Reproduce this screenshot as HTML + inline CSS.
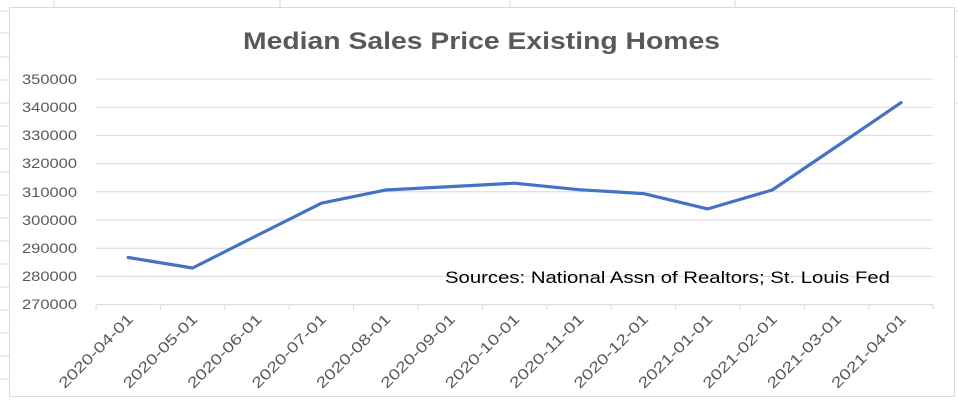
<!DOCTYPE html>
<html><head><style>body{margin:0;background:#fff}svg{display:block}</style></head><body>
<svg width="958" height="401" xmlns="http://www.w3.org/2000/svg" font-family="Liberation Sans, sans-serif">
<rect width="958" height="401" fill="#fff"/>
<g stroke="#d9d9d9" stroke-width="1">
<line x1="54" y1="0" x2="54" y2="7"/><line x1="280" y1="0" x2="280" y2="7"/><line x1="510" y1="0" x2="510" y2="7"/><line x1="735" y1="0" x2="735" y2="7"/>
<line x1="0" y1="11" x2="9" y2="11"/><line x1="0" y1="33" x2="9" y2="33"/><line x1="0" y1="57" x2="9" y2="57"/><line x1="0" y1="80" x2="9" y2="80"/><line x1="0" y1="103" x2="9" y2="103"/><line x1="0" y1="126" x2="9" y2="126"/><line x1="0" y1="149" x2="9" y2="149"/><line x1="0" y1="172" x2="9" y2="172"/><line x1="0" y1="195" x2="9" y2="195"/><line x1="0" y1="218" x2="9" y2="218"/><line x1="0" y1="241" x2="9" y2="241"/><line x1="0" y1="264" x2="9" y2="264"/><line x1="0" y1="287" x2="9" y2="287"/><line x1="0" y1="310" x2="9" y2="310"/><line x1="0" y1="333" x2="9" y2="333"/><line x1="0" y1="356" x2="9" y2="356"/><line x1="0" y1="379" x2="9" y2="379"/>
<line x1="955" y1="11" x2="958" y2="11"/><line x1="955" y1="57" x2="958" y2="57"/><line x1="955" y1="103" x2="958" y2="103"/>
</g>
<rect x="9.5" y="7.5" width="945" height="389" fill="#fff" stroke="#d9d9d9"/>
<text x="243" y="49" textLength="477" lengthAdjust="spacingAndGlyphs" font-size="24" font-weight="bold" fill="#595959">Median Sales Price Existing Homes</text>
<g stroke="#d9d9d9" stroke-width="1">
<line x1="96" y1="79" x2="933" y2="79"/><line x1="96" y1="107.2" x2="933" y2="107.2"/><line x1="96" y1="135.4" x2="933" y2="135.4"/><line x1="96" y1="163.6" x2="933" y2="163.6"/><line x1="96" y1="191.8" x2="933" y2="191.8"/><line x1="96" y1="220" x2="933" y2="220"/><line x1="96" y1="248.2" x2="933" y2="248.2"/><line x1="96" y1="276.4" x2="933" y2="276.4"/><line x1="96" y1="304.6" x2="933" y2="304.6"/>
<line x1="96" y1="304.6" x2="96" y2="310"/><line x1="160.4" y1="304.6" x2="160.4" y2="310"/><line x1="224.8" y1="304.6" x2="224.8" y2="310"/><line x1="289.2" y1="304.6" x2="289.2" y2="310"/><line x1="353.6" y1="304.6" x2="353.6" y2="310"/><line x1="418" y1="304.6" x2="418" y2="310"/><line x1="482.4" y1="304.6" x2="482.4" y2="310"/><line x1="546.8" y1="304.6" x2="546.8" y2="310"/><line x1="611.2" y1="304.6" x2="611.2" y2="310"/><line x1="675.6" y1="304.6" x2="675.6" y2="310"/><line x1="740" y1="304.6" x2="740" y2="310"/><line x1="804.4" y1="304.6" x2="804.4" y2="310"/><line x1="868.8" y1="304.6" x2="868.8" y2="310"/><line x1="933" y1="304.6" x2="933" y2="310"/>
</g>
<g font-size="14" fill="#595959">
<text x="22" y="84" textLength="55" lengthAdjust="spacingAndGlyphs">350000</text><text x="22" y="112" textLength="55" lengthAdjust="spacingAndGlyphs">340000</text><text x="22" y="140" textLength="55" lengthAdjust="spacingAndGlyphs">330000</text><text x="22" y="168" textLength="55" lengthAdjust="spacingAndGlyphs">320000</text><text x="22" y="197" textLength="55" lengthAdjust="spacingAndGlyphs">310000</text><text x="22" y="225" textLength="55" lengthAdjust="spacingAndGlyphs">300000</text><text x="22" y="253" textLength="55" lengthAdjust="spacingAndGlyphs">290000</text><text x="22" y="281" textLength="55" lengthAdjust="spacingAndGlyphs">280000</text><text x="22" y="309" textLength="55" lengthAdjust="spacingAndGlyphs">270000</text>
</g>
<g font-size="15" fill="#595959" text-anchor="end">
<text transform="translate(134,320) rotate(-45)" textLength="98" lengthAdjust="spacingAndGlyphs">2020-04-01</text>
<text transform="translate(198.4,320) rotate(-45)" textLength="98" lengthAdjust="spacingAndGlyphs">2020-05-01</text>
<text transform="translate(262.8,320) rotate(-45)" textLength="98" lengthAdjust="spacingAndGlyphs">2020-06-01</text>
<text transform="translate(327.2,320) rotate(-45)" textLength="98" lengthAdjust="spacingAndGlyphs">2020-07-01</text>
<text transform="translate(391.6,320) rotate(-45)" textLength="98" lengthAdjust="spacingAndGlyphs">2020-08-01</text>
<text transform="translate(456,320) rotate(-45)" textLength="98" lengthAdjust="spacingAndGlyphs">2020-09-01</text>
<text transform="translate(520.4,320) rotate(-45)" textLength="98" lengthAdjust="spacingAndGlyphs">2020-10-01</text>
<text transform="translate(584.8,320) rotate(-45)" textLength="98" lengthAdjust="spacingAndGlyphs">2020-11-01</text>
<text transform="translate(649.2,320) rotate(-45)" textLength="98" lengthAdjust="spacingAndGlyphs">2020-12-01</text>
<text transform="translate(713.6,320) rotate(-45)" textLength="98" lengthAdjust="spacingAndGlyphs">2021-01-01</text>
<text transform="translate(778,320) rotate(-45)" textLength="98" lengthAdjust="spacingAndGlyphs">2021-02-01</text>
<text transform="translate(842.4,320) rotate(-45)" textLength="98" lengthAdjust="spacingAndGlyphs">2021-03-01</text>
<text transform="translate(906.8,320) rotate(-45)" textLength="98" lengthAdjust="spacingAndGlyphs">2021-04-01</text>
</g>
<polyline fill="none" stroke="#4472c4" stroke-width="3.2" stroke-linejoin="round" stroke-linecap="round"
points="128.2,257.5 192.6,268 257,235.5 321.4,203.2 385.8,190 450.2,186.6 514.6,183.2 579,189.7 643.4,193.6 707.8,208.9 772.2,190 836.6,146.5 901,102.7"/>
<text x="445" y="283" textLength="445" lengthAdjust="spacingAndGlyphs" font-size="17" fill="#000">Sources: National Assn of Realtors; St. Louis Fed</text>
</svg>
</body></html>
